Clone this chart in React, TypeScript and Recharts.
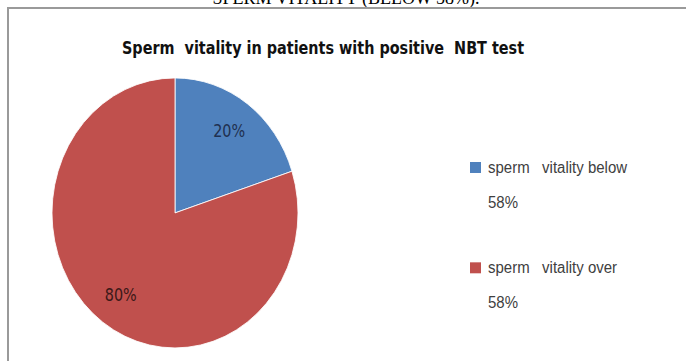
import React from "react";
import { Legend, Pie, PieChart, Cell } from "recharts";

const categories = ["sperm   vitality below 58%", "sperm   vitality over 58%"];
const shares = [20, 80];
const sliceColors = ["#4f81bd", "#c0504d"];
const labelColors = ["#1f3050", "#3b1818"];

const chartData = categories.map((name, i) => ({ name, value: shares[i] }));

// the original picture is stretched vertically, so the chart is drawn flat and scaled
const STRETCH = 1.0976;
const RAD = Math.PI / 180;

function renderLabel(props: any) {
  const { cx, cy, midAngle, outerRadius, percent, index } = props;
  const r = outerRadius * 0.75;
  const x = cx + r * Math.cos(-midAngle * RAD);
  const y = cy + r * Math.sin(-midAngle * RAD);
  return (
    <text
      x={x}
      y={y}
      fill={labelColors[index]}
      textAnchor="middle"
      dominantBaseline="central"
      fontFamily="'DejaVu Sans Condensed', 'DejaVu Sans', sans-serif"
      fontSize={16}
    >
      {`${Math.round(percent * 100)}%`}
    </text>
  );
}

function LegendBox(props: any) {
  const items = props.payload || [];
  return (
    <svg width={200} height={200}>
      {items.map((item: any, i: number) => {
        const words = String(item.value).split(" ");
        const last = words.pop();
        const top = i * 91.4;
        return (
          <g key={i}>
            <rect x={0} y={top + 7.6} width={11} height={10} fill={item.color} />
            <text
              x={18}
              y={top + 17.6}
              fill="#404040"
              fontSize={15}
              fontFamily="'Liberation Sans', Arial, sans-serif"
              style={{ whiteSpace: "pre" }}
            >
              {words.join(" ")}
            </text>
            <text
              x={18}
              y={top + 49.5}
              fill="#404040"
              fontSize={15}
              fontFamily="'Liberation Sans', Arial, sans-serif"
            >
              {last}
            </text>
          </g>
        );
      })}
    </svg>
  );
}

export default function App() {
  return (
    <div
      style={{
        position: "absolute",
        left: 0,
        top: 0,
        width: 686,
        height: 361,
        overflow: "hidden",
        background: "#fff",
      }}
    >
      <svg width={686} height={10} style={{ position: "absolute", left: 0, top: 0 }}>
        <text
          x={346}
          y={4}
          textAnchor="middle"
          fontSize={18}
          fontFamily="'Liberation Serif', serif"
          fill="#000"
        >
          SPERM VITALITY (BELOW 58%).
        </text>
      </svg>
      <div
        style={{
          position: "absolute",
          left: 7,
          top: 7,
          width: 720,
          height: 400,
          border: "2px solid #9a9a9a",
          boxSizing: "border-box",
        }}
      />
      <div
        style={{
          position: "absolute",
          left: 0,
          top: 0,
          width: 686,
          height: 329,
          transform: `scaleY(${STRETCH})`,
          transformOrigin: "0 0",
        }}
      >
        <div
          style={{
            position: "absolute",
            left: 118,
            top: 33,
            width: 410,
            height: 22,
            lineHeight: "22px",
            textAlign: "center",
            whiteSpace: "pre",
            fontFamily: "'DejaVu Sans Condensed', 'DejaVu Sans', sans-serif",
            fontWeight: "bold",
            fontSize: 16,
            color: "#111",
          }}
        >
          Sperm  vitality in patients with positive  NBT test
        </div>
        <PieChart width={686} height={329}>
          <Pie
            data={chartData}
            dataKey="value"
            nameKey="name"
            cx={170}
            cy={189}
            outerRadius={123}
            startAngle={90}
            endAngle={-270}
            stroke="#fff"
            strokeWidth={0.8}
            label={renderLabel}
            labelLine={false}
            isAnimationActive={false}
          >
            {chartData.map((d, i) => (
              <Cell key={d.name} fill={sliceColors[i]} />
            ))}
          </Pie>
          <Legend
            content={<LegendBox />}
            wrapperStyle={{ left: 470, top: 140, width: 200, height: 200 }}
          />
        </PieChart>
      </div>
    </div>
  );
}
